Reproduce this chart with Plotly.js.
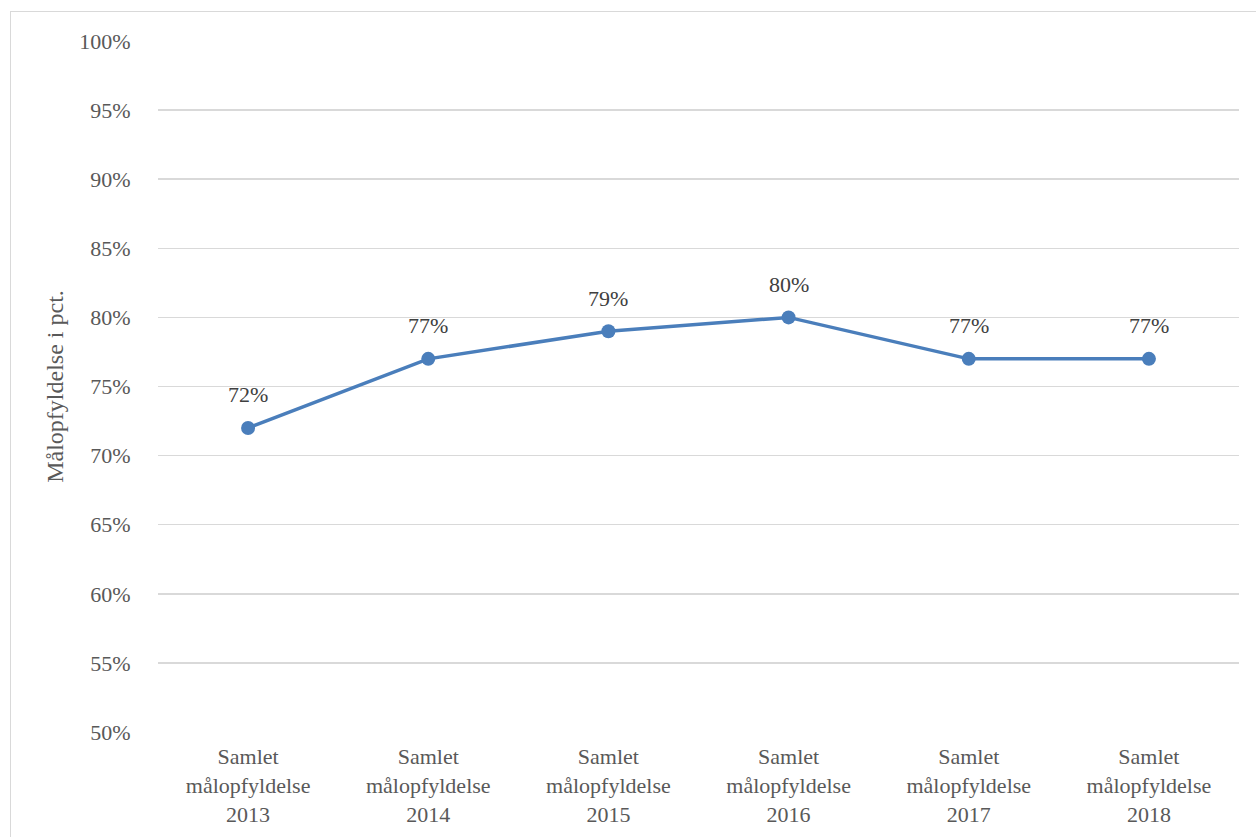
<!DOCTYPE html>
<html>
<head>
<meta charset="utf-8">
<script src="https://cdn.plot.ly/plotly-3.0.1.min.js"></script>
<style>
html,body{margin:0;padding:0;overflow:hidden;background:#fff;}
#chart{position:absolute;left:0;top:0;width:1256px;height:837px;}
#frame{position:absolute;left:10px;top:11px;width:1400px;height:1000px;border:1px solid #d9d9d9;pointer-events:none;}
</style>
</head>
<body>
<div id="chart"></div>
<div id="frame"></div>
<script>
const categories = [
  "Samlet<br>målopfyldelse<br>2013",
  "Samlet<br>målopfyldelse<br>2014",
  "Samlet<br>målopfyldelse<br>2015",
  "Samlet<br>målopfyldelse<br>2016",
  "Samlet<br>målopfyldelse<br>2017",
  "Samlet<br>målopfyldelse<br>2018"
];
const values = [0.72, 0.77, 0.79, 0.80, 0.77, 0.77];
const yTickVals = [0.5,0.55,0.6,0.65,0.7,0.75,0.8,0.85,0.9,0.95,1.0];
const yTickText = ["50%","55%","60%","65%","70%","75%","80%","85%","90%","95%","100%"];
const yTitle = "Målopfyldelse i pct.";

const FONT = "Liberation Serif, Times New Roman, serif";

const trace = {
  type: "scatter",
  mode: "lines+markers",
  x: categories,
  y: values,
  line: {color: "#4a7ebb", width: 3.5},
  marker: {color: "#4a7ebb", size: 14},
  hoverinfo: "skip",
  cliponaxis: false
};

const annotations = categories.map((c, i) => ({
  x: c, y: values[i], xref: "x", yref: "y",
  text: Math.round(values[i]*100) + "%",
  showarrow: false, yshift: 33, yanchor: "middle",
  font: {family: FONT, size: 22, color: "#404040"}
}));

const layout = {
  width: 1256, height: 837,
  margin: {l: 158, r: 17, t: 41, b: 105, pad: 0},
  paper_bgcolor: "#ffffff",
  plot_bgcolor: "#ffffff",
  showlegend: false,
  font: {family: FONT, color: "#595959", size: 22},
  xaxis: {
    type: "category",
    range: [-0.5, 5.5],
    showgrid: false, zeroline: false, showline: false,
    ticks: "outside", ticklen: 5, tickcolor: "rgba(0,0,0,0)",
    tickfont: {family: FONT, size: 22, color: "#595959"},
    fixedrange: true
  },
  yaxis: {
    range: [0.5, 1.0],
    tickvals: yTickVals, ticktext: yTickText,
    showgrid: true, gridcolor: "#d9d9d9", gridwidth: 1.5,
    zeroline: false, showline: false,
    ticks: "outside", ticklen: 22, tickcolor: "rgba(0,0,0,0)",
    tickfont: {family: FONT, size: 22, color: "#595959"},
    title: {text: yTitle, font: {family: FONT, size: 24, color: "#595959"}, standoff: 8},
    fixedrange: true
  },
  annotations: annotations
};

Plotly.newPlot("chart", [trace], layout, {staticPlot: true, displayModeBar: false});
</script>
</body>
</html>
